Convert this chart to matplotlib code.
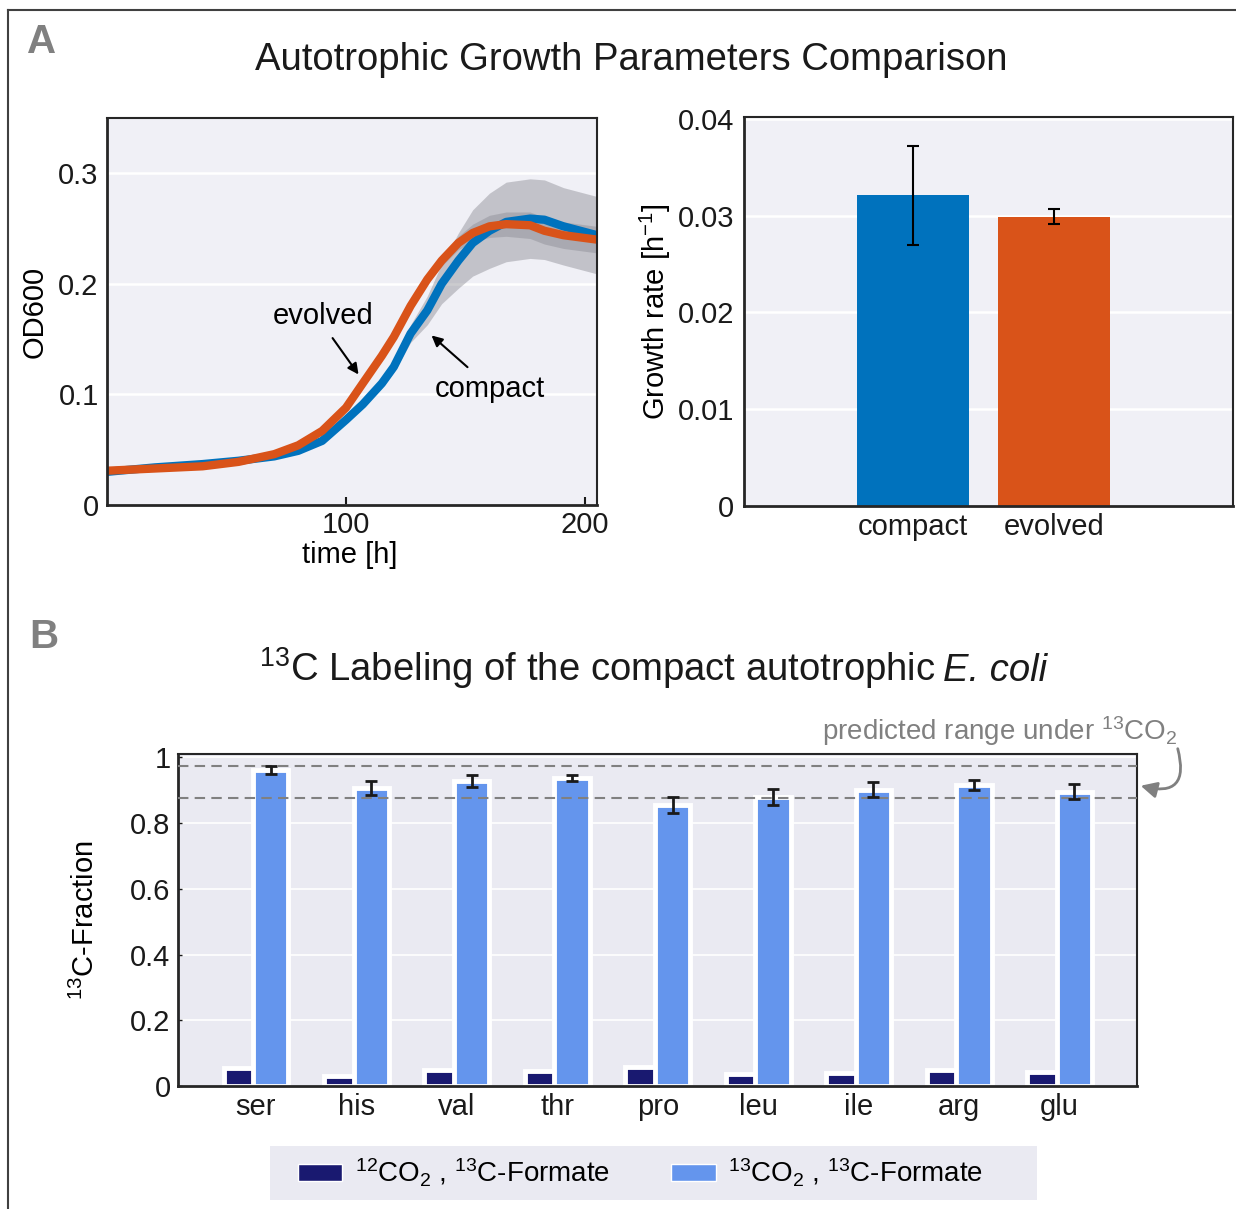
import numpy as np
import matplotlib
matplotlib.use('Agg')
import matplotlib.pyplot as plt
from matplotlib.lines import Line2D
from matplotlib.patches import Patch, FancyArrowPatch, Rectangle

plt.rcParams['font.family'] = ['Liberation Sans', 'DejaVu Sans']
plt.rcParams['mathtext.fontset'] = 'custom'
plt.rcParams['mathtext.rm'] = 'Liberation Sans'
plt.rcParams['mathtext.it'] = 'Liberation Sans:italic'
plt.rcParams['mathtext.default'] = 'regular'

# === Data ===
# growth curves (OD600 over time)
time_h = [0, 20, 40, 55, 70, 80, 90, 100, 107, 115, 120, 127, 134, 140,
          147, 153, 160, 167, 177, 183, 191, 205]
od_compact = [0.030, 0.034, 0.037, 0.040, 0.044, 0.049, 0.058, 0.077, 0.091,
              0.110, 0.125, 0.155, 0.176, 0.200, 0.221, 0.237, 0.248, 0.256,
              0.259, 0.258, 0.252, 0.244]
sd_compact = [0.002, 0.002, 0.002, 0.002, 0.002, 0.002, 0.002, 0.002, 0.003,
              0.004, 0.005, 0.008, 0.013, 0.018, 0.025, 0.030, 0.034, 0.036,
              0.036, 0.036, 0.035, 0.035]
od_evolved = [0.031, 0.033, 0.035, 0.039, 0.046, 0.054, 0.067, 0.088, 0.110,
              0.135, 0.152, 0.180, 0.204, 0.221, 0.237, 0.246, 0.252, 0.254,
              0.253, 0.248, 0.244, 0.240]
sd_evolved = [0.002, 0.002, 0.002, 0.002, 0.002, 0.002, 0.002, 0.002, 0.002,
              0.002, 0.002, 0.002, 0.004, 0.005, 0.006, 0.008, 0.010, 0.011,
              0.012, 0.012, 0.012, 0.012]

# growth rates
strains = ['compact', 'evolved']
growth_rate = [0.0321, 0.0299]
growth_err = [0.0051, 0.0008]

# 13C labeling
amino_acids = ['ser', 'his', 'val', 'thr', 'pro', 'leu', 'ile', 'arg', 'glu']
frac_12co2 = [0.054, 0.031, 0.048, 0.046, 0.059, 0.035, 0.040, 0.048, 0.044]
frac_13co2 = [0.962, 0.906, 0.927, 0.936, 0.854, 0.879, 0.902, 0.917, 0.895]
err_13co2 = [0.012, 0.021, 0.018, 0.009, 0.025, 0.024, 0.024, 0.015, 0.023]
predicted_range = [0.875, 0.975]

c_compact = '#0072BD'
c_evolved = '#D95319'
c_dark = '#191970'
c_light = '#6495ED'
bg_top = '#F0F0F6'
bg_bot = '#EAEAF2'
spine_c = '#262626'
FS = 21

W, H = 1236, 1209
fig = plt.figure(figsize=(W / 100, H / 100), dpi=100)

def rect(l, t, r, b):
    return [l / W, 1 - b / H, (r - l) / W, (b - t) / H]

def style_axes(ax, bg):
    ax.set_facecolor(bg)
    for s in ax.spines.values():
        s.set_color(spine_c)
        s.set_linewidth(1.5)
    ax.spines['left'].set_linewidth(2)
    ax.spines['bottom'].set_linewidth(2)
    ax.set_axisbelow(True)
    ax.grid(axis='y', color='white', linewidth=1.8)
    ax.tick_params(labelsize=FS, colors='#1a1a1a', direction='in')

# outer frame
fig.add_artist(Line2D([8 / W, 8 / W], [0, 1 - 10 / H], transform=fig.transFigure,
                      color='#404040', lw=1.5))
fig.add_artist(Line2D([8 / W, 1], [1 - 10 / H, 1 - 10 / H], transform=fig.transFigure,
                      color='#404040', lw=1.5))

fig.text(42 / W, 1 - 42 / H, 'A', fontsize=29, fontweight='bold', color='#808080',
         ha='center', va='center')
fig.text(44 / W, 1 - 637 / H, 'B', fontsize=29, fontweight='bold', color='#808080',
         ha='center', va='center')
fig.text(631 / W, 1 - 60 / H, 'Autotrophic Growth Parameters Comparison', fontsize=27.5,
         ha='center', va='center', color='#1a1a1a')

# title B: regular part + italic species name, on one baseline
tb = fig.text(259 / W, 1 - 681 / H, r'$^{13}$C Labeling of the compact autotrophic',
              fontsize=27.5, ha='left', va='baseline', color='#1a1a1a')
fig.canvas.draw()
tb_right = tb.get_window_extent().x1
fig.text((tb_right + 8) / W, 1 - 681 / H, 'E. coli', fontsize=27.5, style='italic',
         ha='left', va='baseline', color='#1a1a1a')

# --- growth curves ---
ax1 = fig.add_axes(rect(107, 118, 597, 505))
style_axes(ax1, bg_top)
t = np.array(time_h)
oc, sc = np.array(od_compact), np.array(sd_compact)
oe, se = np.array(od_evolved), np.array(sd_evolved)
ax1.fill_between(t, oc - sc, oc + sc, color='#8c8c94', alpha=0.45, lw=0)
ax1.fill_between(t, oe - se, oe + se, color='#8c8c94', alpha=0.45, lw=0)
ax1.plot(t, oc, color=c_compact, lw=6, solid_capstyle='butt')
ax1.plot(t, oe, color=c_evolved, lw=6, solid_capstyle='butt')
ax1.set_xlim(0, 205)
ax1.set_ylim(0, 0.35)
ax1.set_xticks([100, 200])
ax1.set_yticks([0, 0.1, 0.2, 0.3])
ax1.set_yticklabels(['0', '0.1', '0.2', '0.3'])
ax1.tick_params(axis='y', length=0, pad=6)
ax1.tick_params(axis='x', length=6, width=1.5, pad=4)
ax1.text(0.496, -0.129, 'time [h]', transform=ax1.transAxes, fontsize=FS,
         ha='center', va='center')
ax1.text(-0.147, 0.5, 'OD600', transform=ax1.transAxes, fontsize=FS,
         ha='center', va='center', rotation=90)
ax1.text(90.3, 0.171, 'evolved', fontsize=FS, ha='center', va='center')
ax1.text(160, 0.105, 'compact', fontsize=FS, ha='center', va='center')
ax1.annotate('', xy=(105.9, 0.116), xytext=(93.7, 0.153),
             arrowprops=dict(arrowstyle='-|>', color='black', lw=1.5, mutation_scale=16))
ax1.annotate('', xy=(134.9, 0.155), xytext=(151.7, 0.123),
             arrowprops=dict(arrowstyle='-|>', color='black', lw=1.5, mutation_scale=16))

# --- growth rates ---
ax2 = fig.add_axes(rect(744, 117, 1233, 506))
style_axes(ax2, bg_top)
xpos = [1, 2]
ax2.bar(xpos, growth_rate, width=0.8, color=[c_compact, c_evolved], zorder=2)
ax2.errorbar(xpos, growth_rate, yerr=growth_err, fmt='none', ecolor='black',
             elinewidth=1.5, capsize=4, capthick=1.5, zorder=3)
ax2.set_xlim(-0.2, 3.27)
ax2.set_ylim(0, 0.0402)
ax2.set_xticks(xpos)
ax2.set_xticklabels(strains)
ax2.set_yticks([0, 0.01, 0.02, 0.03, 0.04])
ax2.set_yticklabels(['0', '0.01', '0.02', '0.03', '0.04'])
ax2.tick_params(axis='y', length=0, pad=7)
ax2.tick_params(axis='x', length=6, width=1.5, pad=5)
ax2.text(-0.182, 0.5, r'Growth rate [h$^{-1}$]', transform=ax2.transAxes,
         fontsize=FS, ha='center', va='center', rotation=90)

# --- 13C labeling ---
ax3 = fig.add_axes(rect(177.5, 754, 1137, 1086))
style_axes(ax3, bg_bot)
ax3.grid(axis='y', color='white', linewidth=1.2)
x = np.arange(len(amino_acids))
off = 0.147
ax3.bar(x - off, frac_12co2, width=0.35, color=c_dark, edgecolor='white',
        linewidth=3.5, zorder=2)
ax3.bar(x + off, frac_13co2, width=0.35, color=c_light, edgecolor='white',
        linewidth=3.5, zorder=2)
for yv in predicted_range:
    ax3.axhline(yv, color='#808080', ls=(0, (5, 3)), lw=1.5, zorder=3)
ax3.errorbar(x + off, frac_13co2, yerr=err_13co2, fmt='none', ecolor='#1a1a1a',
             elinewidth=2, capsize=4.5, capthick=2, zorder=4)
ax3.set_xlim(-0.78, 8.77)
ax3.set_ylim(0, 1.01)
ax3.set_xticks(x)
ax3.set_xticklabels(amino_acids)
ax3.set_yticks([0, 0.2, 0.4, 0.6, 0.8, 1])
ax3.set_yticklabels(['0', '0.2', '0.4', '0.6', '0.8', '1'])
ax3.tick_params(axis='x', length=0, pad=5)
ax3.tick_params(axis='y', length=3, width=1, pad=5)
ax3.text(-0.0964, 0.5, r'$^{13}$C-Fraction', transform=ax3.transAxes,
         fontsize=FS, ha='center', va='center', rotation=90)

fig.text(822 / W, 1 - 731 / H, r'predicted range under $^{13}$CO$_2$', fontsize=20,
         color='#808080', ha='left', va='center')
fig.add_artist(FancyArrowPatch((1177 / W, 1 - 746 / H), (1138 / W, 1 - 785 / H),
                               transform=fig.transFigure,
                               connectionstyle='arc3,rad=-0.9', arrowstyle='-|>',
                               mutation_scale=24, color='#808080', lw=2))

# legend with a plain background box
fig.add_artist(Rectangle((270 / W, 1 - 1200 / H), 767 / W, 54 / H,
                         transform=fig.transFigure, facecolor=bg_bot,
                         edgecolor='none', zorder=0))
handles = [Patch(facecolor=c_dark, edgecolor='white'),
           Patch(facecolor=c_light, edgecolor='white')]
labels = [r'$^{12}$CO$_2$ , $^{13}$C-Formate', r'$^{13}$CO$_2$ , $^{13}$C-Formate']
fig.legend(handles, labels, loc='center left', bbox_to_anchor=(298 / W, 1 - 1173 / H),
           ncol=2, fontsize=20, frameon=False, borderpad=0, borderaxespad=0,
           handlelength=1.6, handleheight=0.55, columnspacing=2.2,
           handletextpad=0.45)

fig.savefig('out.png', dpi=100)
